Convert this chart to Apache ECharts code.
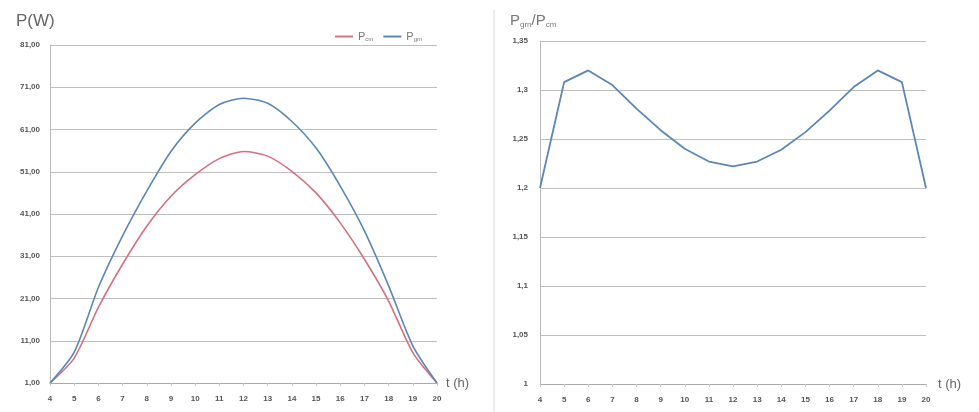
<!DOCTYPE html>
<html>
<head>
<meta charset="utf-8">
<script src="https://cdn.jsdelivr.net/npm/echarts@6/dist/echarts.min.js"></script>
<style>html,body{margin:0;padding:0;background:#fff}#c{width:979px;height:412px}</style>
</head>
<body>
<div id="c"></div>
<script>
var hours = [4,5,6,7,8,9,10,11,12,13,14,15,16,17,18,19,20];
var pcm  = [1, 6.9, 18.9, 29.1, 38.1, 45.2, 50.3, 54.1, 55.8, 54.7, 51.1, 46.0, 38.9, 30.3, 20.4, 8.2, 1];
var pgrn = [1, 8.3, 23.6, 35.8, 46.4, 55.8, 62.5, 66.9, 68.4, 67.2, 62.9, 56.6, 47.6, 37.0, 24.0, 9.8, 1];
var ratio = [1.2, 1.308, 1.320, 1.305, 1.281, 1.259, 1.240, 1.227, 1.222, 1.227, 1.239, 1.257, 1.279, 1.303, 1.320, 1.308, 1.2];
var leftTicks = [1, 11, 21, 31, 41, 51, 61, 71, 81];
var rightTicks = [1, 1.05, 1.1, 1.15, 1.2, 1.25, 1.3, 1.35];

function zip(xs, ys){ return xs.map(function(x,i){ return [x, ys[i]]; }); }
var labelStyle = {color:'#555', fontSize:8, fontFamily:'Liberation Sans', fontWeight:'bold'};
var splitStyle = {show:true, lineStyle:{color:'#bfbfbf', width:1.2}};
var blue = '#5b86b7', red = '#d4707f';

var chart = echarts.init(document.getElementById('c'), null, {renderer:'canvas'});
chart.setOption({
  animation:false,
  backgroundColor:'#fff',
  title:[
    {text:'P(W)', left:11, top:8, textStyle:{color:'#666', fontSize:17, fontWeight:'normal', fontFamily:'Liberation Sans'}},
    {text:'{a|P}{s|grn}{a|/P}{s|cm}', left:505, top:8, textStyle:{fontWeight:'normal', rich:{
      a:{color:'#777', fontSize:15, fontWeight:'normal', fontFamily:'Liberation Sans'},
      s:{color:'#777', fontSize:8, fontWeight:'normal', fontFamily:'Liberation Sans', padding:[8,0,0,0]}}}}
  ],
  legend:{
    left:330, top:26, itemWidth:18, itemHeight:2, itemGap:10, icon:'rect',
    data:['Pcm','Pgrn'],
    formatter:function(n){ return '{a|P}{s|' + n.slice(1) + '}'; },
    textStyle:{rich:{
      a:{color:'#777', fontSize:11, fontFamily:'Liberation Sans'},
      s:{color:'#777', fontSize:6, fontFamily:'Liberation Sans', padding:[5,0,0,0]}}}
  },
  graphic:[{type:'line', shape:{x1:494, y1:10, x2:494, y2:412}, style:{stroke:'#d9d9d9', lineWidth:1}}],
  grid:[
    {left:50, right:542, top:45, bottom:29},
    {left:540, right:53, top:41, bottom:28}
  ],
  xAxis:[
    {gridIndex:0, type:'value', min:4, max:20, interval:1, name:'t (h)', nameLocation:'end', nameGap:9,
     nameTextStyle:{color:'#666', fontSize:13, fontFamily:'Liberation Sans', padding:[24,0,0,0]},
     axisLine:{lineStyle:{color:'#aaa'}}, axisTick:{show:true, length:3, lineStyle:{color:'#ccc'}},
     splitLine:{show:false}, axisLabel:Object.assign({margin:12}, labelStyle)},
    {gridIndex:1, type:'value', min:4, max:20, interval:1, name:'t (h)', nameLocation:'end', nameGap:12,
     nameTextStyle:{color:'#666', fontSize:13, fontFamily:'Liberation Sans', padding:[24,0,0,0]},
     axisLine:{lineStyle:{color:'#aaa'}}, axisTick:{show:true, length:3, lineStyle:{color:'#ccc'}},
     splitLine:{show:false}, axisLabel:Object.assign({margin:12}, labelStyle)}
  ],
  yAxis:[
    {gridIndex:0, type:'value', min:leftTicks[0], max:leftTicks[leftTicks.length-1], interval:10,
     axisLine:{show:true, lineStyle:{color:'#bbb'}}, axisTick:{show:false},
     splitLine:splitStyle,
     axisLabel:Object.assign({margin:10, formatter:function(v){ return v.toFixed(2).replace('.',','); }}, labelStyle)},
    {gridIndex:1, type:'value', min:rightTicks[0], max:rightTicks[rightTicks.length-1], interval:0.05,
     axisLine:{show:true, lineStyle:{color:'#bbb'}}, axisTick:{show:false},
     splitLine:splitStyle,
     axisLabel:Object.assign({margin:12, formatter:function(v){ return String(Math.round(v*100)/100).replace('.',','); }}, labelStyle)}
  ],
  series:[
    {name:'Pcm', type:'line', xAxisIndex:0, yAxisIndex:0, data:zip(hours,pcm), smooth:0.25, showSymbol:false, symbol:'none',
     lineStyle:{color:red, width:1.6}, itemStyle:{color:red}},
    {name:'Pgrn', type:'line', xAxisIndex:0, yAxisIndex:0, data:zip(hours,pgrn), smooth:0.25, showSymbol:false, symbol:'none',
     lineStyle:{color:blue, width:1.6}, itemStyle:{color:blue}},
    {name:'ratio', type:'line', xAxisIndex:1, yAxisIndex:1, data:zip(hours,ratio), showSymbol:false, symbol:'none',
     lineStyle:{color:blue, width:1.8}, itemStyle:{color:blue}}
  ]
});
</script>
</body>
</html>
